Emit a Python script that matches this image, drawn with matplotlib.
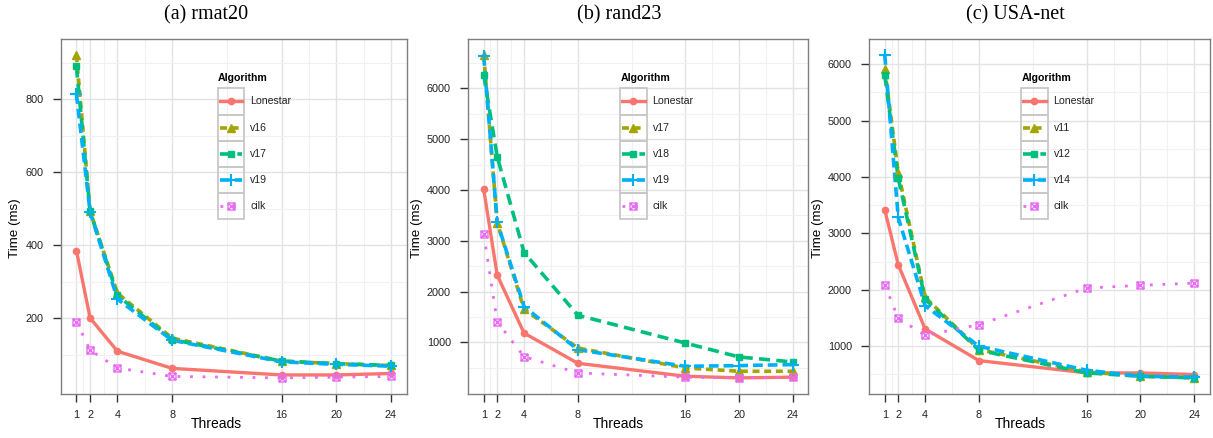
import matplotlib
matplotlib.use('Agg')
import matplotlib.pyplot as plt
from matplotlib.lines import Line2D
from matplotlib.patches import Rectangle
from matplotlib.path import Path

# ==========================================
# Data
# ==========================================
threads = [1, 2, 4, 8, 16, 20, 24]
thread_minor = [1.5, 3, 6, 12, 18, 22]

# (a) rmat20
rmat_names = ['Lonestar', 'v16', 'v17', 'v19', 'cilk']
rmat_lonestar = [385, 200, 109, 62, 44, 44, 48]
rmat_v16 = [921, 493, 268, 145, 82, 75, 70]
rmat_v17 = [890, 493, 262, 141, 82, 75, 70]
rmat_v19 = [814, 491, 252, 139, 80, 73, 68]
rmat_cilk = [190, 112, 63, 40, 36, 38, 40]
rmat_yticks = [200, 400, 600, 800]

# (b) rand23
rand_names = ['Lonestar', 'v17', 'v18', 'v19', 'cilk']
rand_lonestar = [4009, 2325, 1183, 589, 334, 302, 315]
rand_v17 = [6653, 3356, 1653, 889, 497, 432, 432]
rand_v18 = [6261, 4655, 2769, 1535, 987, 713, 615]
rand_v19 = [6633, 3369, 1705, 856, 530, 543, 563]
rand_cilk = [3128, 1405, 719, 399, 315, 302, 315]
rand_yticks = [1000, 2000, 3000, 4000, 5000, 6000]

# (c) USA-net
usa_names = ['Lonestar', 'v11', 'v12', 'v14', 'cilk']
usa_lonestar = [3417, 2445, 1307, 746, 528, 528, 499]
usa_v11 = [5906, 4078, 1867, 941, 546, 469, 440]
usa_v12 = [5805, 3977, 1837, 929, 528, 469, 440]
usa_v14 = [6159, 3282, 1719, 1000, 575, 469, 452]
usa_cilk = [2091, 1495, 1195, 1383, 2032, 2079, 2120]
usa_yticks = [1000, 2000, 3000, 4000, 5000, 6000]

# ==========================================
# Styling (ggplot-like)
# ==========================================
plt.rcParams['font.family'] = ['Liberation Sans', 'DejaVu Sans']
plt.rcParams['lines.scale_dashes'] = False

# square with a cross (ggplot shape 7)
sq_x = Path([(-1, -1), (1, -1), (1, 1), (-1, 1), (-1, -1),
             (-1, -1), (1, 1), (-1, 1), (1, -1)],
            [Path.MOVETO, Path.LINETO, Path.LINETO, Path.LINETO, Path.CLOSEPOLY,
             Path.MOVETO, Path.LINETO, Path.MOVETO, Path.LINETO])

styles = [
    dict(color='#F8766D', lw=2.4, dashes=None, marker='o', ms=4.5, mfc='#F8766D', mew=1),
    dict(color='#A3A500', lw=2.6, dashes=(5, 3.4), marker='^', ms=6, mfc='#A3A500', mew=1),
    dict(color='#00BF7D', lw=2.6, dashes=(8, 4.5), marker='s', ms=5, mfc='#00BF7D', mew=1),
    dict(color='#00B0F6', lw=2.6, dashes=(7, 3.6), marker='+', ms=8, mfc='#00B0F6', mew=1.5),
    dict(color='#E76BF3', lw=2.0, dashes=(2, 7), marker=sq_x, ms=5, mfc='none', mew=1),
]

W, H = 1213, 438
fig = plt.figure(figsize=(W / 100, H / 100), dpi=100)


def fx(px):
    return px / W


def fy(py):
    return 1 - py / H


panels = [
    dict(title='(a) rmat20', names=rmat_names,
         series=[rmat_lonestar, rmat_v16, rmat_v17, rmat_v19, rmat_cilk],
         yticks=rmat_yticks, left=60.7, right=406.7,
         title_x=206, xlab_x=216, ylab_x=15, leg_x=217.7),
    dict(title='(b) rand23', names=rand_names,
         series=[rand_lonestar, rand_v17, rand_v18, rand_v19, rand_cilk],
         yticks=rand_yticks, left=468.3, right=808.3,
         title_x=619, xlab_x=618, ylab_x=417, leg_x=620),
    dict(title='(c) USA-net', names=usa_names,
         series=[usa_lonestar, usa_v11, usa_v12, usa_v14, usa_cilk],
         yticks=usa_yticks, left=869.3, right=1209.8,
         title_x=1015, xlab_x=1020, ylab_x=818, leg_x=1021),
]

top_px, bot_px = 39, 394

for p in panels:
    ax = fig.add_axes([fx(p['left']), fy(bot_px), (p['right'] - p['left']) / W,
                       (bot_px - top_px) / H])

    # lines first, points on top (like geom_line + geom_point)
    for vals, st in zip(p['series'], styles):
        line, = ax.plot(threads, vals, color=st['color'], lw=st['lw'], zorder=3)
        if st['dashes'] is not None:
            line.set_dashes(st['dashes'])
    for vals, st in zip(p['series'], styles):
        ax.plot(threads, vals, linestyle='none', marker=st['marker'], ms=st['ms'],
                color=st['color'], mfc=st['mfc'], mew=st['mew'], zorder=4)

    ax.set_xticks(threads)
    ax.set_xticks(thread_minor, minor=True)
    ys = p['yticks']
    step = ys[1] - ys[0]
    ax.set_yticks(ys)
    ax.set_yticks([ys[0] - step / 2] + [y + step / 2 for y in ys], minor=True)

    # 5% expansion on both axes
    all_vals = [v for s in p['series'] for v in s]
    lo, hi = min(all_vals), max(all_vals)
    ax.set_ylim(lo - 0.05 * (hi - lo), hi + 0.05 * (hi - lo))
    ax.set_xlim(1 - 0.05 * 23, 24 + 0.05 * 23)

    ax.grid(True, which='major', color='#E3E3E3', lw=1.0, zorder=0)
    ax.grid(True, which='minor', color='#F1F1F1', lw=0.8, zorder=0)
    ax.set_axisbelow(True)
    for sp in ax.spines.values():
        sp.set_color('#7F7F7F')
        sp.set_linewidth(1.0)

    ax.tick_params(axis='both', which='major', direction='out', length=5.5, width=1,
                   color='#333333', labelsize=7.8, labelcolor='#222222')
    ax.tick_params(axis='x', which='major', pad=6)
    ax.tick_params(axis='y', which='major', pad=7)
    ax.tick_params(axis='both', which='minor', length=0)

    # titles and axis labels
    fig.text(fx(p['title_x']), fy(15), p['title'], family='Liberation Serif',
             fontsize=14.5, ha='center', va='center')
    fig.text(fx(p['xlab_x']), fy(424.5), 'Threads', fontsize=10, ha='center', va='center')
    fig.text(fx(p['ylab_x']), fy(228), 'Time (ms)', fontsize=9.6, rotation=90,
             ha='center', va='center')

    # legend with a box around each key
    x0 = p['leg_x']
    fig.text(fx(x0 + 0.3), fy(78), 'Algorithm', fontsize=7.6, fontweight='bold',
             ha='left', va='center')
    bw, bh = 26.6, 26.2
    for i, (name, st) in enumerate(zip(p['names'], styles)):
        top = 88.3 + i * bh
        fig.add_artist(Rectangle((fx(x0), fy(top + bh)), bw / W, bh / H,
                                 transform=fig.transFigure, fill=False,
                                 edgecolor='#C8C8C8', lw=1.3))
        yc = fy(top + bh / 2)
        key = Line2D([fx(x0 + 2), fx(x0 + bw - 2)], [yc, yc], transform=fig.transFigure,
                     color=st['color'], lw=st['lw'])
        if st['dashes'] is not None:
            key.set_dashes(st['dashes'])
        fig.add_artist(key)
        fig.add_artist(Line2D([fx(x0 + bw / 2)], [yc], transform=fig.transFigure,
                              linestyle='none', marker=st['marker'], ms=st['ms'],
                              color=st['color'], mfc=st['mfc'], mew=st['mew']))
        fig.text(fx(x0 + 32.5), yc, name, fontsize=7.6, ha='left', va='center',
                 color='#222222')

fig.savefig('out.png', dpi=100)
